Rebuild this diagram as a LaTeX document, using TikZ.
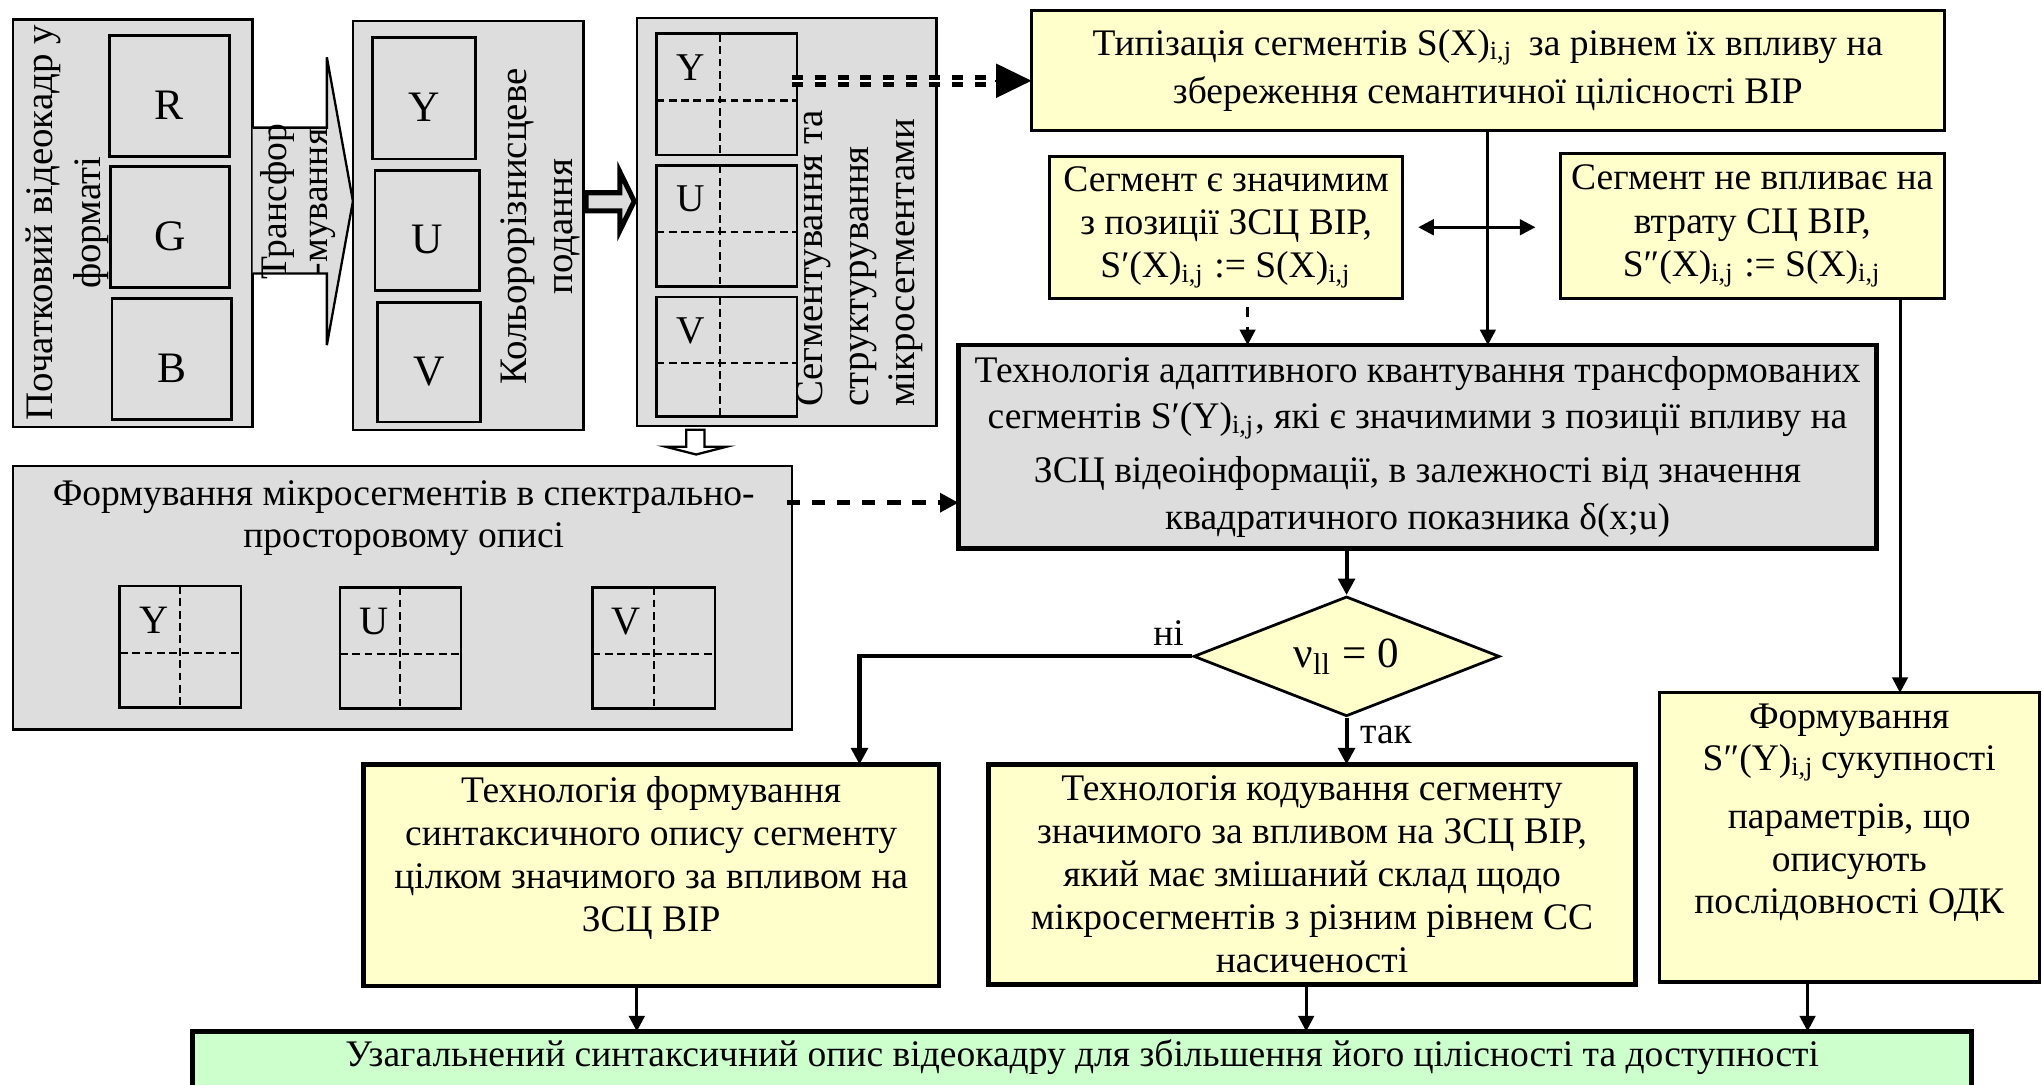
\documentclass[tikz,border=0pt]{standalone}
\usepackage{fontspec}
\setmainfont{Liberation Serif}
\usetikzlibrary{arrows.meta,shapes.geometric,calc}

\definecolor{panelgray}{HTML}{DDDDDD}
\definecolor{noteyellow}{HTML}{FFFFCC}
\definecolor{resultgreen}{HTML}{CCFFCC}

% a node given by its top-left and bottom-right corners (picture units)
\newcommand{\cornernode}[7]{%
  \node[#1, inner sep=0pt, outer sep=0pt,
        minimum width={(#5-#3)*0.1mm}, minimum height={(#6-#4)*0.1mm}]
       (#2) at ({(#3+#5)/2},{(#4+#6)/2}) {#7};}
\newcommand{\sij}{\textsubscript{i,j}}

\begin{document}
\begin{tikzpicture}[x=0.1mm, y=-0.1mm,
  every node/.style={font=\fontsize{8.2}{9.6}\selectfont},
  panel/.style={draw, fill=panelgray, line width=0.55pt},
  chan/.style={draw, line width=0.6pt},
  chanbig/.style={chan, font=\fontsize{9.5}{11}\selectfont, text height=3.6mm, text depth=0pt},
  gridline/.style={line width=0.45pt, dash pattern=on 1.7pt off 1pt},
  notebox/.style={draw, fill=noteyellow, line width=0.7pt, align=center},
  techbox/.style={draw, fill=noteyellow, line width=1pt, align=center},
  quantbox/.style={draw, fill=panelgray, line width=1pt, align=center},
  resultbox/.style={draw, fill=resultgreen, line width=1pt},
  flow/.style={line width=0.65pt, -{Triangle[length=3.4pt,width=3.4pt]}},
  flowthick/.style={line width=0.9pt, -{Triangle[length=3.6pt,width=3.6pt]}},
  flowboth/.style={line width=0.65pt, {Triangle[length=3.4pt,width=3.4pt]}-{Triangle[length=3.4pt,width=3.4pt]}},
  dashflow/.style={line width=1pt, dash pattern=on 2.9pt off 2.6pt, -{Triangle[length=4pt,width=4pt]}},
  segflow/.style={double, double distance=0.45pt, line width=1.05pt, dash pattern=on 2.4pt off 2.6pt},
  ]
\useasboundingbox (0,0) rectangle (1568,833);

% ---------- input frame in RGB
\cornernode{panel}{rgbframe}{10}{15}{194}{328}{}
\cornernode{chanbig}{chR}{84}{27}{176}{120}{R}
\cornernode{chanbig}{chG}{85}{128}{176}{221}{G}
\cornernode{chanbig}{chB}{86}{229}{178}{322}{B}
\node[rotate=90, align=center, font=\fontsize{8.5}{10.5}\selectfont] (rgbtitle) at (52,171) {Початковий відеокадр у\\форматі};

% ---------- transform arrow
\draw[fill=panelgray, line width=0.5pt] (194,98) -- (251,98) -- (251,44) -- (271,154.5) -- (251,265) -- (251,210) -- (194,210);
\node[rotate=90, align=center, font=\fontsize{8.2}{9}\selectfont] (trlabel) at (229,155) {Трансфор\\-мування};

% ---------- YUV frame
\cornernode{panel}{yuvframe}{271}{16}{448}{330}{}
\cornernode{chanbig}{chY}{286}{29}{365}{122}{Y}
\cornernode{chanbig}{chU}{288}{131}{368}{223}{U}
\cornernode{chanbig}{chV}{290}{232}{369}{324}{V}
\node[rotate=90, align=center, font=\fontsize{8.5}{10.2}\selectfont] (yuvtitle) at (415,174) {Кольорорізнисцеве\\подання};

% ---------- block arrow to segmentation
\draw[fill=panelgray, line width=1.1pt] (450,148) -- (476,148) -- (476,132) -- (487,154.5) -- (476,177) -- (476,162) -- (450,162) -- cycle;

% ---------- segmented channels
\cornernode{panel}{segframe}{489}{14}{719}{327}{}
\foreach \nm/\tp/\bt/\lt in {sY/26/119/Y, sU/127/220/U, sV/228/320/V} {
  \cornernode{chan}{\nm}{504}{\tp}{612}{\bt}{}
  \draw[gridline] ($(\nm.north west)!0.45!(\nm.north east)$) -- ($(\nm.south west)!0.45!(\nm.south east)$);
  \draw[gridline] ($(\nm.north west)!0.55!(\nm.south west)$) -- ($(\nm.north east)!0.55!(\nm.south east)$);
  \node[font=\fontsize{8.6}{10}\selectfont] (\nm-l) at ($(\nm.north west)+(26,26)$) {\lt};
}
\node[rotate=90, anchor=west, align=left, inner sep=0pt, font=\fontsize{8.5}{10}\selectfont] (segtitle) at (660,313) {Сегментування та\\структурування\\мікросегментами};

% ---------- hollow arrow down
\draw[fill=white, line width=0.5pt] (527,330) -- (541,330) -- (541,343) -- (558,343) -- (534.5,349) -- (511,343) -- (527,343) -- cycle;

% ---------- micro-segments in spectral-spatial description
\cornernode{panel}{microframe}{10}{358}{608}{560}{}
\node[align=center, font=\fontsize{8.2}{9.1}\selectfont] (microtitle) at (310,398) {Формування мікросегментів в спектрально-\\просторовому описі};
\foreach \nm/\xa/\ya/\xb/\yb/\lt in {mY/92/450/185/543/Y, mU/261/451/354/544/U, mV/455/451/549/544/V} {
  \cornernode{chan}{\nm}{\xa}{\ya}{\xb}{\yb}{}
  \draw[gridline] (\nm.north) -- (\nm.south);
  \draw[gridline] ($(\nm.north west)!0.55!(\nm.south west)$) -- ($(\nm.north east)!0.55!(\nm.south east)$);
  \node[font=\fontsize{8.8}{10}\selectfont] (\nm-l) at ($(\nm.north west)+(26,26)$) {\lt};
}

% ---------- segment typing
\cornernode{notebox, font=\fontsize{8.2}{10.6}\selectfont}{typing}{792}{8}{1493}{100}{Типізація сегментів S(X)\sij{}\, за рівнем їх впливу на\\збереження семантичної цілісності ВІР}
\cornernode{notebox, font=\fontsize{8.2}{9.5}\selectfont}{sig}{806}{120}{1077}{229}{Сегмент є значимим\\з позиції ЗСЦ ВІР,\\S′(X)\sij{} := S(X)\sij}
\cornernode{notebox, font=\fontsize{8.2}{9.5}\selectfont}{nonsig}{1198}{118}{1493}{229}{Сегмент не впливає на\\втрату СЦ ВІР,\\S″(X)\sij{} := S(X)\sij}

% ---------- adaptive quantisation
\cornernode{quantbox, font=\fontsize{8.2}{10.2}\selectfont}{quant}{736}{265}{1441}{421}{Технологія адаптивного квантування трансформованих\\сегментів S′(Y)\sij, які є значимими з позиції впливу на\\[1.5pt]ЗСЦ відеоінформації, в залежності від значення\\квадратичного показника δ(x;u)}

% ---------- decision
\node[diamond, aspect=2.5, draw, fill=noteyellow, line width=0.6pt, inner sep=0pt, minimum width=23.5mm, minimum height=9.2mm, font=\fontsize{9.4}{10}\selectfont] (check) at (1034,504) {ν\textsubscript{ll} = 0};
\node[anchor=south east, inner sep=0.5pt] (nolabel) at ([xshift=-0.4mm, yshift=0.6mm]check.west) {ні};
\node[anchor=north west, inner sep=0.5pt] (yeslabel) at ([xshift=0.8mm, yshift=-0.4mm]check.south) {так};

% ---------- technologies
\cornernode{techbox}{formtech}{279}{587}{721}{757}{}
\node[align=center, font=\fontsize{8.2}{9.4}\selectfont] (formtext) at (500,659) {Технологія формування\\синтаксичного опису сегменту\\цілком значимого за впливом на\\ЗСЦ ВІР};
\cornernode{techbox, font=\fontsize{8.2}{9.4}\selectfont}{codetech}{759}{587}{1256}{756}{Технологія кодування сегменту\\значимого за впливом на ЗСЦ ВІР,\\який має змішаний склад щодо\\мікросегментів з різним рівнем СС\\насиченості}
\cornernode{notebox}{paramform}{1274}{532}{1566}{754}{}
\node[align=center, font=\fontsize{8.2}{9.2}\selectfont] (paramtext) at (1420,624) {Формування\\S″(Y)\sij\,сукупності\\[3.5pt]параметрів, що\\описують\\послідовності ОДК};

% ---------- generalised description
\cornernode{resultbox}{result}{148}{792}{1514}{845}{}
\node (resulttext) at (831,812) {Узагальнений синтаксичний опис відеокадру для збільшення його цілісності та доступності};

% ---------- connectors
\coordinate (dstart) at ($(sY.east)+(-4,-10.5)$);
\draw[segflow, shorten >=7pt] (dstart) -- (dstart -| typing.west);
\draw[line width=0.5pt, -{Triangle[length=7.7pt,width=7.4pt]}] ([xshift=-8pt]dstart -| typing.west) -- (dstart -| typing.west);

\coordinate (mstart) at ($(microframe.east)+(-4,-73)$);
\draw[dashflow] (mstart) -- (mstart -| quant.west);

\draw[flow] (typing.south) -- (typing.south |- quant.north);
\draw[flow, dash pattern=on 2pt off 2.3pt, dash phase=2.3pt] ([xshift=1.65mm]sig.south) -- ([xshift=1.65mm]sig.south |- quant.north);
\draw[flow] ([xshift=11.35mm]nonsig.south) -- ([xshift=11.35mm]nonsig.south |- paramform.north);
\draw[flowboth] ([xshift=1.2mm]sig.east) -- ([xshift=-1.9mm]sig.east -| nonsig.west);

\draw[flowthick] (check.north |- quant.south) -- (check.north);
\draw[flowthick] (check.west) -| ([xshift=16mm]formtech.north);
\draw[flowthick] (check.south) -- (check.south |- codetech.north);

\draw[flow] ([xshift=-1.1mm]formtech.south) -- ([xshift=-1.1mm]formtech.south |- result.north);
\draw[flow] ([xshift=-0.45mm]codetech.south) -- ([xshift=-0.45mm]codetech.south |- result.north);
\draw[flow] ([xshift=-3.2mm]paramform.south) -- ([xshift=-3.2mm]paramform.south |- result.north);
\end{tikzpicture}
\end{document}
